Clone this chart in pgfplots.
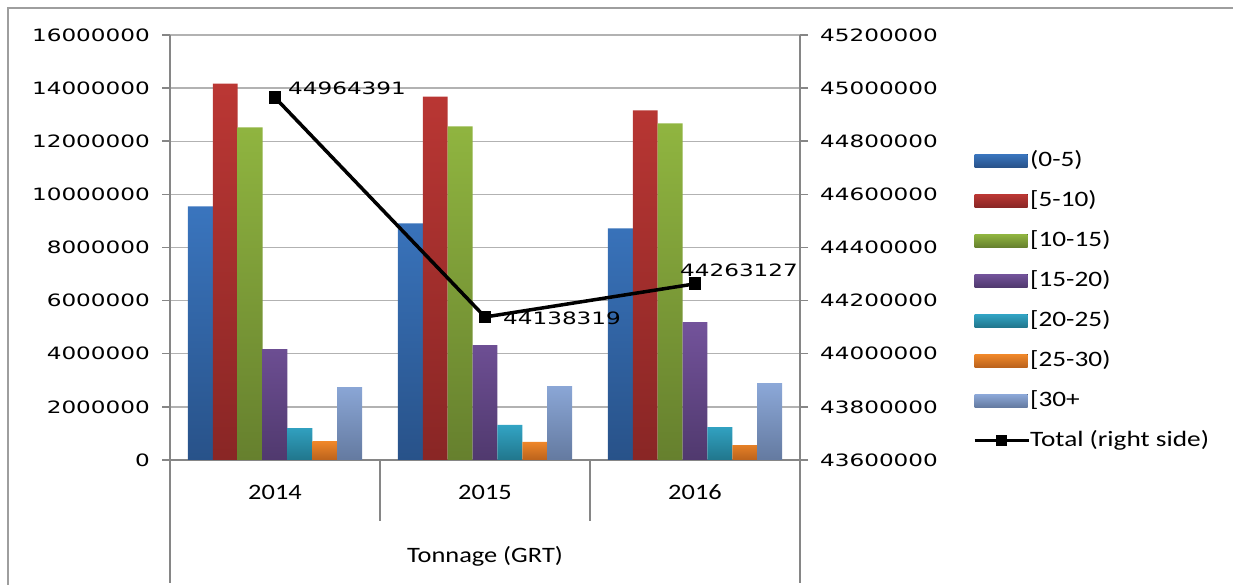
\documentclass[border=0pt]{standalone}
\usepackage{fontspec}
\usepackage{pgfplots}
\pgfplotsset{compat=1.18}
\newfontfamily\tickfont[FakeStretch=1.36]{DejaVu Sans}
\newfontfamily\calfont[FakeStretch=1.2]{Carlito}
\newfontfamily\legfont[FakeStretch=1.24]{Carlito}
\definecolor{axisgray}{RGB}{134,134,134}
\definecolor{gridgray}{RGB}{178,178,178}
\definecolor{blueT}{RGB}{58,117,190}\definecolor{blueB}{RGB}{40,82,137}
\definecolor{redT}{RGB}{187,55,52}\definecolor{redB}{RGB}{137,38,37}
\definecolor{greenT}{RGB}{144,181,64}\definecolor{greenB}{RGB}{102,128,46}
\definecolor{purpleT}{RGB}{115,83,155}\definecolor{purpleB}{RGB}{80,57,110}
\definecolor{tealT}{RGB}{50,164,196}\definecolor{tealB}{RGB}{33,118,140}
\definecolor{orangeT}{RGB}{240,136,42}\definecolor{orangeB}{RGB}{186,98,28}
\definecolor{lblueT}{RGB}{140,168,216}\definecolor{lblueB}{RGB}{100,122,160}
\pgfplotsset{
  barleg/.style={legend image code/.code={\fill[##1, draw=none] (0pt,-6.5pt) rectangle (53pt,6.5pt);}},
  lineleg/.style={legend image code/.code={\draw[mark repeat=2,mark phase=2,##1, line width=3pt, mark size=4pt] plot coordinates {(0pt,0pt) (27pt,0pt) (54pt,0pt)};}},
  common/.style={
    at={(170pt,125pt)}, anchor=south west,
    scale only axis, width=630pt, height=425pt,
    xmin=-0.5, xmax=2.5,
    axis line style={axisgray, line width=1.5pt},
    y tick style={axisgray, line width=1.5pt},
    tick align=outside, major tick length=8pt,
    scaled y ticks=false,
  }
}
\begin{document}
\begin{tikzpicture}
\begin{axis}[common,
  ymin=0, ymax=16000000,
  ybar=0pt, bar width=24.86pt,
  axis x line*=bottom, axis y line*=left,
  xtick={0,1,2}, xticklabels={2014,2015,2016},
  x tick style={draw=none},
  xticklabel style={font=\calfont\fontsize{22}{26}\selectfont, anchor=base, yshift=-32pt},
  ytick={0,2000000,4000000,6000000,8000000,10000000,12000000,14000000,16000000},
  yticklabels={0,2000000,4000000,6000000,8000000,10000000,12000000,14000000,16000000},
  yticklabel style={font=\tickfont\fontsize{17}{20}\selectfont, inner sep=0pt, anchor=east, xshift=-12pt},
  ymajorgrids, grid style={gridgray, line width=1.3pt},
  xlabel={Tonnage (GRT)},
  xlabel style={font=\calfont\fontsize{22}{26}\selectfont, at={(0.5,-0.24)}, anchor=base},
  clip=false,
]
\addplot[draw=none, top color=blueT, bottom color=blueB] coordinates {(0,9550000) (1,8910000) (2,8720000)};
\addplot[draw=none, top color=redT, bottom color=redB] coordinates {(0,14170000) (1,13680000) (2,13160000)};
\addplot[draw=none, top color=greenT, bottom color=greenB] coordinates {(0,12520000) (1,12560000) (2,12670000)};
\addplot[draw=none, top color=purpleT, bottom color=purpleB] coordinates {(0,4170000) (1,4320000) (2,5190000)};
\addplot[draw=none, top color=tealT, bottom color=tealB] coordinates {(0,1200000) (1,1320000) (2,1240000)};
\addplot[draw=none, top color=orangeT, bottom color=orangeB] coordinates {(0,710000) (1,680000) (2,560000)};
\addplot[draw=none, top color=lblueT, bottom color=lblueB] coordinates {(0,2740000) (1,2780000) (2,2890000)};
\end{axis}
\begin{axis}[common,
  ymin=43600000, ymax=45200000,
  axis x line=none, axis y line*=right,
  ytick={43600000,43800000,44000000,44200000,44400000,44600000,44800000,45000000,45200000},
  yticklabels={43600000,43800000,44000000,44200000,44400000,44600000,44800000,45000000,45200000},
  yticklabel style={font=\tickfont\fontsize{17}{20}\selectfont, inner sep=0pt, anchor=west, xshift=12pt},
  clip=false,
  legend cell align=left,
  legend style={draw=none, fill=none, font=\legfont\fontsize{22}{26}\selectfont,
    at={(1.2746,0.729)}, anchor=north west, inner sep=0pt, row sep=19pt,
    nodes={inner sep=0pt, text height=16pt, text depth=5pt},
    /tikz/every even column/.append style={column sep=9pt}},
]
\addlegendimage{barleg, top color=blueT, bottom color=blueB}\addlegendentry{(0-5)}
\addlegendimage{barleg, top color=redT, bottom color=redB}\addlegendentry{[5-10)}
\addlegendimage{barleg, top color=greenT, bottom color=greenB}\addlegendentry{[10-15)}
\addlegendimage{barleg, top color=purpleT, bottom color=purpleB}\addlegendentry{[15-20)}
\addlegendimage{barleg, top color=tealT, bottom color=tealB}\addlegendentry{[20-25)}
\addlegendimage{barleg, top color=orangeT, bottom color=orangeB}\addlegendentry{[25-30)}
\addlegendimage{barleg, top color=lblueT, bottom color=lblueB}\addlegendentry{[30+}
\addplot[black, line width=3.5pt, mark=square*, mark size=4.7pt, lineleg]
  coordinates {(0,44964391) (1,44138319) (2,44263127)};
\addlegendentry{Total (right side)}
\node[font=\tickfont\fontsize{17}{20}\selectfont, inner sep=0pt, anchor=west, xshift=13pt, yshift=9.5pt] at (axis cs:0,44964391) {44964391};
\node[font=\tickfont\fontsize{17}{20}\selectfont, inner sep=0pt, anchor=west, xshift=18pt, yshift=-1pt] at (axis cs:1,44138319) {44138319};
\node[font=\tickfont\fontsize{17}{20}\selectfont, inner sep=0pt, anchor=west, xshift=-15pt, yshift=14pt] at (axis cs:2,44263127) {44263127};
\end{axis}
\draw[axisgray, line width=1.5pt] (170pt,125pt) -- (170pt,2pt);
\draw[axisgray, line width=1.5pt] (800pt,125pt) -- (800pt,2pt);
\draw[axisgray, line width=1.5pt] (380pt,125pt) -- (380pt,64pt);
\draw[axisgray, line width=1.5pt] (590pt,125pt) -- (590pt,64pt);
\draw[axisgray!80, line width=1.2pt] (8pt,-10pt) -- (8pt,577pt) -- (1250pt,577pt);
\pgfresetboundingbox
\path[use as bounding box] (0pt,0pt) rectangle (1233pt,585pt);
\end{tikzpicture}
\end{document}
